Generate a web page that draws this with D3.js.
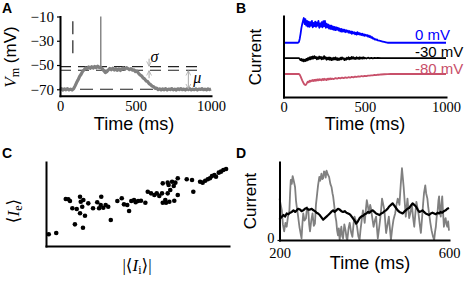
<!DOCTYPE html>
<html><head><meta charset="utf-8">
<script src="https://cdn.jsdelivr.net/npm/d3@7"></script>
<style>
body{margin:0;background:#fff;}
svg{display:block;}
</style>
</head><body>
<svg id="c" width="468" height="281"></svg>
<script>
// ---------------- DATA ----------------
// Panel A: membrane potential trace (time ms, Vm mV)
const traceA = [[0,-70.2],[10,-69.4],[20,-70.6],[30,-69.7],[40,-70.4],[50,-69.5],[60,-70.5],[70,-69.8],[80,-70.6],[90,-69.6],[100,-67.2],[110,-64.5],[120,-62.2],[130,-59.4],[140,-57.6],[150,-55.2],[160,-53.9],[170,-52.4],[180,-52.9],[190,-51.6],[200,-52.7],[210,-51.4],[220,-52.5],[230,-51.2],[240,-52.3],[250,-50.9],[260,-52.1],[270,-51.8],[280,-53.2],[290,-54.6],[300,-56.2],[310,-55.4],[320,-54.1],[330,-52.8],[340,-53.9],[350,-52.6],[360,-54.2],[370,-53.1],[380,-54.4],[390,-53.3],[400,-54.5],[410,-53.2],[420,-52.4],[430,-53.5],[440,-52.1],[450,-52.9],[460,-53.8],[470,-53.0],[480,-54.3],[490,-54.0],[500,-55.4],[510,-55.0],[520,-56.8],[530,-58.2],[540,-58.9],[550,-60.6],[560,-61.4],[570,-63.1],[580,-63.6],[590,-65.3],[600,-66.1],[610,-67.4],[620,-67.9],[630,-69.2],[640,-69.0],[650,-70.3],[660,-69.6],[670,-70.5],[680,-69.7],[690,-70.4],[700,-69.5],[710,-70.6],[720,-69.8],[730,-70.3],[740,-69.4],[750,-70.5],[760,-69.9],[770,-70.6],[780,-69.6],[790,-70.2],[800,-69.5],[810,-70.4],[820,-69.8],[830,-70.6],[840,-69.7],[850,-70.3],[860,-69.5],[870,-70.5],[880,-69.9],[890,-70.4],[900,-69.6],[910,-70.6],[920,-69.8],[930,-70.2],[940,-69.5],[950,-70.4],[960,-69.9],[970,-70.5],[980,-69.6],[990,-70.3],[1000,-69.8]];
const spikeA = [[270,-52.5],[270,-10]];
const stimLineA = [[85,-14],[85,-41]];
const restLevelA = [-70];
const sigmaLevelsA = [-51.4,-54.3];
const sigmaSpanA = [0,925];
const sigmaArrowT = [590];
const muArrowT = [850];
const yTicksA = [-10,-30,-50,-70];
const xTicks = [0,500,1000];

// Panel B: synaptic currents at three holding potentials (offset, arbitrary units)
const currentB0 = [[0,67],[90,67],[95,68],[100,72],[105,78],[110,85],[115,90],[120,94],[125,97.5],[130,90],[135,96],[140,88],[145,94],[150,87],[155,93],[160,86.5],[165,92.5],[170,88],[175,94],[180,86],[185,91.5],[190,87.5],[195,93],[200,86.5],[205,92],[210,88],[215,94],[220,85.5],[225,91],[230,87],[235,92.5],[240,86],[245,93.5],[250,87.5],[255,94],[260,85.5],[265,90.5],[270,86],[275,89.5],[280,84.5],[285,88.5],[290,84],[295,88],[300,83.5],[305,87],[310,83],[315,86.5],[320,82.5],[325,86],[330,83],[335,85.5],[340,82],[345,84.5],[350,81],[355,84],[360,80.5],[365,83.5],[370,81],[375,83],[380,80],[385,82.5],[390,80.5],[395,82],[400,79.5],[405,81.5],[410,79],[415,81],[420,78],[425,80.5],[430,78.5],[435,80],[440,77.5],[445,79.5],[450,77],[455,80],[460,77.5],[465,79],[470,77],[475,78.5],[480,76.5],[485,78],[490,76],[495,77.5],[500,75.5],[505,77],[510,75.5],[515,76.5],[520,74.5],[525,76],[530,74],[535,75],[540,73],[545,74],[550,72],[555,72.5],[560,71],[565,71.5],[570,70.5],[575,71],[580,70],[590,69.5],[600,69],[610,68.5],[620,68],[630,67.5],[640,67],[1000,67]];
const currentB30 = [[0,48],[95,48],[100,47],[105,45.5],[110,47],[115,44.5],[120,46.5],[125,44],[130,46],[135,44.5],[140,47],[145,45],[150,48],[155,46],[160,49],[165,46.5],[170,49.5],[175,47],[180,50],[185,47.5],[190,50.5],[195,48],[200,49.5],[205,46.5],[210,49],[215,47],[220,50],[225,47.5],[230,49.5],[235,46.5],[240,49],[245,47],[250,50.5],[255,47.5],[260,49],[265,46],[270,48.5],[275,46.5],[280,49],[285,46],[290,48.5],[295,45.5],[300,48],[305,46],[310,48.5],[315,46.5],[320,49],[325,46],[330,48],[335,45.5],[340,47.5],[345,46],[350,48.5],[355,46.5],[360,49],[365,47],[370,48],[375,45.5],[380,47.5],[385,46],[390,48.5],[395,47],[400,49],[405,46.5],[410,48.5],[415,47],[420,49.5],[425,47.5],[430,49],[435,47],[440,48.5],[445,47],[450,49],[455,47.5],[460,48.5],[465,47],[470,49],[475,47.5],[480,48.5],[485,47.5],[490,49],[495,47.5],[500,48.5],[510,47.5],[520,48.5],[530,47.8],[540,48.4],[550,47.8],[560,48.3],[570,47.9],[580,48.2],[600,48],[1000,48]];
const currentB80 = [[0,28.4],[95,28.4],[100,27.5],[105,25.5],[110,23],[115,20.5],[120,18.5],[125,16.5],[130,15.2],[135,14.8],[140,15.5],[145,17.5],[150,19],[155,18],[160,20],[165,19],[170,20.5],[175,19.5],[180,21],[185,19.8],[190,21.2],[195,20],[200,21.5],[205,20.3],[210,21.8],[215,20.5],[220,22],[225,20.8],[230,21.8],[235,20.6],[240,22.2],[245,21],[250,22.5],[255,21.2],[260,22],[265,21],[270,22.6],[275,21.5],[280,22.8],[285,21.8],[290,23],[295,22],[300,22.8],[310,22.2],[320,23.4],[330,22.6],[340,23.6],[350,23],[360,24],[370,23.2],[380,24.2],[390,23.6],[400,24.4],[410,23.8],[420,24.8],[430,24.3],[440,25.2],[450,24.7],[460,25.5],[470,25.1],[480,25.9],[490,25.5],[500,26.2],[510,25.9],[520,26.5],[530,26.3],[540,26.8],[550,26.7],[560,27.2],[570,27.1],[580,27.5],[590,27.5],[600,27.8],[620,28.1],[640,28.3],[660,28.4],[1000,28.4]];
const seriesNamesB = ["0 mV","-30 mV","-80 mV"];
const seriesColorsB = ["#0000ff","#000000","#c8506a"];

// Panel C: mean excitatory vs |mean inhibitory| current (arbitrary units)
const meanInhC = [1.5,5.6,10.8,12.2,13.1,14.4,16.8,18.6,19,20.4,19.8,18.6,21.3,15.8,20.2,23.1,25.7,28,30.2,29.9,31.3,32.6,34,29,35.4,39,41.4,42.6,44.4,45.4,46.6,48.1,49,50.3,51.9,54.3,55.6,57.4,59.2,60.5,61.9,63.4,63.8,65.2,66.5,67,67.9,68.9,69.8,70.7,72,72,66.5,63.8,65.6,67.4,70.1,76.9,79.8,80.5,84.2,85.6,87,88.4,89.6,90.7,92,92.9,94.4,95.6,96.9,98.4];
const meanExcC = [13.9,15.5,56,55.6,53.6,44.9,44,58.7,52.7,54.8,46.8,38.9,36.1,25.8,21.8,50.8,44.9,52,58.7,48.8,45.6,48.8,46.8,44.9,31,53.6,56.8,49.6,48.8,41.7,53.6,54.8,52,53.6,53.9,51.5,64.6,62.7,60.7,62.7,59.5,62.7,74.6,54.8,75.4,72.6,66.7,76.5,71.4,75.4,80.6,60.7,62.7,51.5,51.5,52.7,53.9,79.4,78.6,64.6,76.5,75.4,77.7,79.4,80.6,83.3,84.5,82.5,87.3,88.5,90.5,91.7];

// Panel D: single-trial current (gray) and average (black)
const currentDTrial = [[200,0.53],[203,0.45],[205.5,0.38],[208,0.2],[211,0.11],[214,0.22],[217,0.17],[220,0.3],[223.4,0.38],[225,0.6],[226.6,0.77],[229,0.72],[231,0.82],[234,0.75],[236.7,0.68],[239,0.5],[240.6,0.43],[244,0.3],[247,0.17],[250,0.08],[252,0.02],[254,0.2],[256,0.34],[259,0.25],[262.5,0.28],[265,0.42],[268,0.38],[270,0.2],[272,0.11],[275,0.25],[278,0.34],[281,0.18],[283.6,0.21],[286,0.45],[289,0.6],[291,0.7],[294,0.81],[296,0.76],[299,0.85],[301,0.78],[303,0.79],[305,0.88],[307,0.87],[309,0.8],[311,0.89],[314,0.84],[317,0.81],[320,0.72],[322.7,0.68],[325,0.6],[326.6,0.56],[329,0.45],[330.5,0.38],[332,0.3],[334,0.24],[336,0.12],[338,0.06],[340,0.15],[342,0],[344,0.1],[346,0.17],[348,0.05],[350,0.02],[353,0.2],[356,0.12],[358,0.03],[360,0],[363,0.15],[365.6,0.22],[369,0.1],[372,0.04],[375,0.22],[377,0.3],[380,0.25],[383,0.17],[386,0.05],[389,0],[391,0.12],[393,0.21],[395,0.3],[397,0.38],[399,0.3],[401,0.22],[404,0.4],[406,0.51],[409,0.42],[411,0.34],[414,0.45],[416,0.4],[419,0.28],[422,0.17],[425,0.25],[428,0.3],[430,0.15],[432,0.02],[435,0.15],[437.5,0.26],[440,0.4],[442,0.53],[445,0.45],[447.6,0.38],[450,0.2],[451.6,0.09],[455,0.2],[458,0.3],[461,0.12],[463,0],[466,0.15],[469,0.26],[471,0.3],[473,0.34],[476,0.45],[479,0.53],[481,0.5],[483,0.45],[486,0.7],[489,0.92],[491,0.8],[493,0.68],[496,0.45],[498,0.3],[500,0.42],[502,0.53],[504,0.4],[506,0.28],[509,0.35],[512.5,0.45],[515,0.3],[518,0.17],[520,0.3],[523,0.49],[526,0.4],[528,0.34],[531,0.2],[533.6,0.09],[536,0.25],[539,0.47],[541,0.6],[544,0.7],[546,0.6],[549,0.53],[551,0.42],[553,0.34],[556,0.22],[559,0.12],[562,0.05],[565,0],[567,0.1],[569,0.17],[571,0.3],[572.7,0.34],[575,0.5],[576.6,0.56],[578,0.4],[580.5,0.3],[582,0.45],[584,0.56],[586,0.35],[588,0.17],[590,0.25],[592,0.28],[594,0.2],[596,0.17],[598,0.24],[600,0.12]];
const currentDMean = [[200,0.26],[204,0.29],[209.4,0.32],[213,0.3],[217,0.34],[221,0.33],[225,0.35],[229,0.36],[233,0.38],[237,0.36],[240.6,0.38],[244,0.4],[248.4,0.39],[252,0.37],[256,0.38],[260,0.4],[264,0.41],[268,0.39],[272,0.39],[276,0.4],[280,0.38],[284,0.37],[287.5,0.35],[291,0.34],[295,0.32],[299,0.29],[303,0.26],[307,0.28],[311,0.3],[315,0.32],[318.75,0.34],[322,0.36],[326.6,0.38],[330,0.36],[334,0.38],[338,0.4],[342,0.39],[346,0.37],[350,0.36],[354,0.37],[358,0.35],[362,0.34],[365.6,0.33],[369,0.31],[373,0.28],[377,0.25],[381,0.21],[385,0.24],[389,0.28],[393,0.3],[397,0.31],[401,0.33],[405,0.34],[409,0.36],[412.5,0.35],[416,0.37],[420,0.38],[424,0.36],[428,0.34],[432,0.33],[436,0.32],[440,0.34],[444,0.35],[448,0.37],[451.6,0.38],[455,0.4],[459,0.43],[463,0.45],[467,0.47],[471,0.44],[475,0.41],[479,0.38],[483,0.36],[487,0.35],[490.6,0.34],[494,0.36],[498,0.38],[502,0.4],[506,0.41],[510,0.44],[514,0.47],[518,0.45],[522,0.43],[526,0.39],[530,0.36],[534,0.37],[537.5,0.38],[541,0.36],[545,0.34],[549,0.33],[553,0.32],[557,0.34],[561,0.35],[565,0.34],[569,0.33],[573,0.35],[576.6,0.34],[580,0.36],[584,0.35],[588,0.37],[592,0.38],[596,0.4],[600,0.41]];
const xTicksD = [200,600];
const yTicksD = [0];

// ---------------- DRAW ----------------
const SANS = "'Liberation Sans',Arial,sans-serif";
const SERIF = "'Liberation Serif','DejaVu Serif',serif";
const svg = d3.select("#c");
const grayTrace = "#808080";
const fmt = d => String(d);

function styleAxis(g, fontSize){
  g.attr("font-family",null).attr("font-size",null);
  g.select(".domain").attr("stroke","#000").attr("stroke-width",2).attr("stroke-linecap","square");
  g.selectAll(".tick line").attr("stroke","#000").attr("stroke-width",1.2);
  g.selectAll(".tick text").style("font-family",SERIF).style("font-size",fontSize+"px").attr("fill","#000");
}
function txt(x,y,t,size,opts={}){
  const e = svg.append("text").attr("x",x).attr("y",y).style("font-family",opts.family||SANS).style("font-size",size+"px")
    .attr("fill",opts.fill||"#000").attr("text-anchor",opts.anchor||"start");
  if(opts.bold) e.style("font-weight","bold");
  if(opts.italic) e.style("font-style","italic");
  if(t!==null) e.text(t);
  return e;
}
function panelLabel(x,y,t){ txt(x,y,t,14,{bold:true}); }
function rotLabel(x,y,t,size){
  return svg.append("text").attr("transform",`translate(${x},${y}) rotate(-90)`).attr("text-anchor","middle")
    .style("font-family",SANS).style("font-size",size+"px").text(t);
}

// ===== Panel A =====
const xA = d3.scaleLinear().domain([0,1000]).range([60,211]);
const yA = d3.scaleLinear().domain([-75.3,-10]).range([95.7,16.5]);
const lineA = d3.line().x(d=>xA(d[0])).y(d=>yA(d[1]));

svg.append("path").attr("d",lineA(stimLineA)).attr("stroke","#222").attr("stroke-width",1.2).attr("stroke-dasharray","13,6").attr("fill","none");
restLevelA.forEach(v=>{
  svg.append("path").attr("d",lineA([[0,v],[1000,v]])).attr("stroke","#222").attr("stroke-width",1.2).attr("stroke-dasharray","13,7").attr("fill","none");
});
sigmaLevelsA.forEach(v=>{
  svg.append("path").attr("d",lineA([[sigmaSpanA[0],v],[sigmaSpanA[1],v]])).attr("stroke","#222").attr("stroke-width",1.2).attr("stroke-dasharray","11,7").attr("fill","none");
});
svg.append("path").attr("d",lineA(traceA)).attr("stroke",grayTrace).attr("stroke-width",3.2).attr("fill","none").attr("stroke-linejoin","round");
svg.append("path").attr("d",lineA(spikeA)).attr("stroke",grayTrace).attr("stroke-width",1.4).attr("fill","none");

const defs = svg.append("defs");
const arrowCol = "#a8a8a8";
defs.append("marker").attr("id","ah").attr("viewBox","0 0 10 10").attr("refX",9).attr("refY",5)
  .attr("markerWidth",6).attr("markerHeight",6).attr("orient","auto-start-reverse")
  .append("path").attr("d","M1,1 L9,5 L1,9").attr("fill","none").attr("stroke",arrowCol).attr("stroke-width",1.3);
sigmaArrowT.forEach(t=>{
  svg.append("line").attr("x1",xA(t)).attr("x2",xA(t)).attr("y1",yA(sigmaLevelsA[0])-8).attr("y2",yA(sigmaLevelsA[0])-0.5)
    .attr("stroke",arrowCol).attr("stroke-width",1).attr("marker-end","url(#ah)");
  svg.append("line").attr("x1",xA(t)).attr("x2",xA(t)).attr("y1",yA(sigmaLevelsA[1])+8).attr("y2",yA(sigmaLevelsA[1])+0.5)
    .attr("stroke",arrowCol).attr("stroke-width",1).attr("marker-end","url(#ah)");
  txt(xA(t)+1.5,yA(sigmaLevelsA[0])-4.5,"σ",16,{family:SERIF,italic:true});
});
muArrowT.forEach(t=>{
  svg.append("line").attr("x1",xA(t)).attr("x2",xA(t)).attr("y1",yA(sigmaLevelsA[1])+0.5).attr("y2",yA(restLevelA[0])-0.5)
    .attr("stroke",arrowCol).attr("stroke-width",1).attr("marker-end","url(#ah)").attr("marker-start","url(#ah)");
  txt(xA(t)+5,yA(-62)+3,"μ",16,{family:SERIF,italic:true});
});

const axYA = svg.append("g").attr("transform","translate(60,0)")
  .call(d3.axisLeft(yA).tickValues(yTicksA).tickSize(3).tickSizeOuter(0).tickPadding(3).tickFormat(d=>"\u2212"+Math.abs(d)));
styleAxis(axYA,15);
const axXA = svg.append("g").attr("transform","translate(0,95.7)")
  .call(d3.axisBottom(xA).tickValues(xTicks).tickSize(0).tickSizeOuter(0).tickPadding(5).tickFormat(fmt));
styleAxis(axXA,14.5);
txt(134,130,"Time (ms)",18,{anchor:"middle"});
const vm = svg.append("text").attr("transform","translate(16,57) rotate(-90)").attr("text-anchor","middle").style("font-family",SANS).style("font-size","17px");
vm.append("tspan").style("font-family",SERIF).style("font-style","italic").text("V");
vm.append("tspan").style("font-family",SERIF).style("font-size","12px").attr("dy",3).text("m");
vm.append("tspan").attr("dy",-3).text(" (mV)");
panelLabel(2,13,"A");

// ===== Panel B =====
const xB = d3.scaleLinear().domain([0,1000]).range([283.5,446]);
const yB = d3.scaleLinear().domain([0,100]).range([97,16]);
const lineB = d3.line().x(d=>xB(d[0])).y(d=>yB(d[1]));
[currentB0,currentB30,currentB80].forEach((s,i)=>{
  svg.append("path").attr("d",lineB(s)).attr("stroke",seriesColorsB[i]).attr("stroke-width",1.8).attr("fill","none").attr("stroke-linejoin","round");
});
const axYB = svg.append("g").attr("transform","translate(283.5,0)").call(d3.axisLeft(yB).tickValues([]).tickSizeOuter(0));
styleAxis(axYB,15);
const axXB = svg.append("g").attr("transform","translate(0,97)")
  .call(d3.axisBottom(xB).tickValues(xTicks).tickSize(0).tickSizeOuter(0).tickPadding(5).tickFormat(fmt));
styleAxis(axXB,14.5);
const labelYB = [40,57,73.5];
seriesNamesB.forEach((n,i)=>{ txt(415,labelYB[i],n,15,{fill:seriesColorsB[i]}); });
txt(365,130,"Time (ms)",18,{anchor:"middle"});
rotLabel(261,57,"Current",17);
panelLabel(236,13,"B");

// ===== Panel C =====
const xC = d3.scaleLinear().domain([0,100]).range([46,229]);
const yC = d3.scaleLinear().domain([0,100]).range([246,162]);
svg.append("g").selectAll("circle").data(meanInhC).join("circle")
  .attr("cx",d=>xC(d)).attr("cy",(d,i)=>yC(meanExcC[i])).attr("r",2.3).attr("fill","#000");
const axYC = svg.append("g").attr("transform","translate(46,0)").call(d3.axisLeft(yC).tickValues([]).tickSizeOuter(0));
styleAxis(axYC,15);
const axXC = svg.append("g").attr("transform","translate(0,246)").call(d3.axisBottom(xC).tickValues([]).tickSizeOuter(0));
styleAxis(axXC,15);
const ie = svg.append("text").attr("transform","translate(19,211) rotate(-90)").attr("text-anchor","middle").style("font-family",SERIF).style("font-size","17px");
ie.append("tspan").text("⟨");
ie.append("tspan").style("font-style","italic").text("I");
ie.append("tspan").style("font-size","12px").attr("dy",3).text("e");
ie.append("tspan").attr("dy",-3).text("⟩");
const ii = svg.append("text").attr("x",137).attr("y",271).attr("text-anchor","middle").style("font-family",SERIF).style("font-size","17px");
ii.append("tspan").text("|⟨");
ii.append("tspan").style("font-style","italic").text("I");
ii.append("tspan").style("font-size","12px").attr("dy",3).text("i");
ii.append("tspan").attr("dy",-3).text("⟩|");
panelLabel(2,158,"C");

// ===== Panel D =====
const xD = d3.scaleLinear().domain([200,600]).range([279.5,449]);
const yD = d3.scaleLinear().domain([0,1]).range([240,162]);
const lineD = d3.line().x(d=>xD(d[0])).y(d=>yD(d[1]));
svg.append("path").attr("d",lineD(currentDTrial)).attr("stroke",grayTrace).attr("stroke-width",1.8).attr("fill","none").attr("stroke-linejoin","round");
svg.append("path").attr("d",lineD(currentDMean)).attr("stroke","#000").attr("stroke-width",2.2).attr("fill","none").attr("stroke-linejoin","round");
const axYD = svg.append("g").attr("transform","translate(279.5,0)")
  .call(d3.axisLeft(yD).tickValues(yTicksD).tickSize(2).tickSizeOuter(0).tickPadding(3).tickFormat(fmt));
styleAxis(axYD,14.5);
axYD.selectAll(".tick text").attr("dy","0.15em");
const axXD = svg.append("g").attr("transform","translate(0,240)")
  .call(d3.axisBottom(xD).tickValues(xTicksD).tickSize(0).tickSizeOuter(0).tickPadding(8).tickFormat(fmt));
styleAxis(axXD,14.5);
txt(370,269,"Time (ms)",18,{anchor:"middle"});
rotLabel(256,201,"Current",17);
panelLabel(236,158,"D");
</script>
</body></html>
